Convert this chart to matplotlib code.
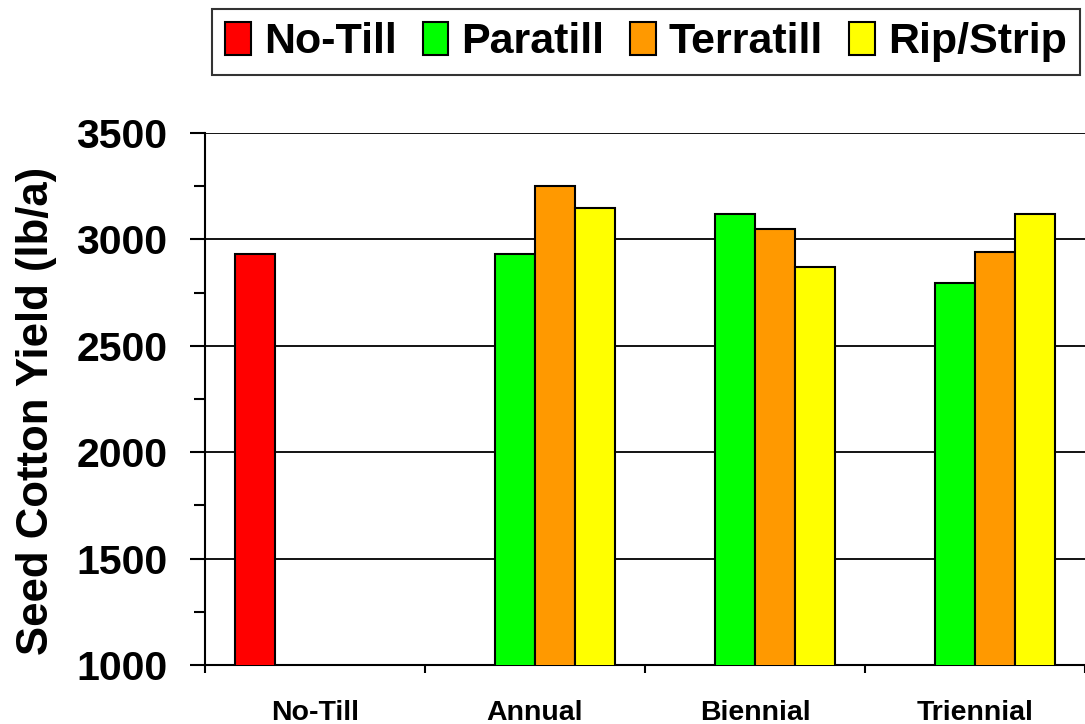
import numpy as np
import matplotlib
matplotlib.use("Agg")
from matplotlib import pyplot as plt
from matplotlib.ticker import MultipleLocator

categories = ["No-Till", "Annual", "Biennial", "Triennial"]
series_names = ["No-Till", "Paratill", "Terratill", "Rip/Strip"]
no_till = [2930, np.nan, np.nan, np.nan]
paratill = [np.nan, 2930, 3118, 2795]
terratill = [np.nan, 3252, 3047, 2942]
rip_strip = [np.nan, 3149, 2870, 3120]
colors = ["#FF0000", "#00FF00", "#FF9900", "#FFFF00"]

plt.rcParams['font.family'] = ['Liberation Sans', 'DejaVu Sans']
plt.rcParams['font.weight'] = 'bold'

fig = plt.figure(figsize=(10.85, 7.24), dpi=100)
ax = fig.add_axes([205/1085, 1 - 665/724, 880/1085, (665 - 133)/724])

x = np.arange(len(categories)) + 0.5
w = 40/220
handles = []
for i, (vals, c) in enumerate(zip([no_till, paratill, terratill, rip_strip], colors)):
    b = ax.bar(x + (i - 1.5)*w, vals, width=w, color=c, edgecolor='black',
               linewidth=1.5, zorder=3)
    handles.append(b)

ax.set_ylim(1000, 3500)
ax.set_xlim(0, 4)
ax.yaxis.set_major_locator(MultipleLocator(500))
ax.yaxis.set_minor_locator(MultipleLocator(250))
ax.yaxis.grid(True, which='major', color='black', linewidth=1.3, zorder=0)
ax.tick_params(axis='y', which='major', direction='out', length=11, width=1.5,
               labelsize=29.5, pad=16)
ax.tick_params(axis='y', which='minor', direction='out', length=8, width=1.5)
for t in ax.get_yticklabels():
    t.set_fontweight('bold')

ax.set_xticks([0, 1, 2, 3, 4])
ax.set_xticklabels([])
ax.set_xticks(x, minor=True)
ax.set_xticklabels(categories, minor=True, fontsize=20.5, fontweight='bold')
ax.tick_params(axis='x', which='major', direction='out', length=6, width=1.5)
ax.tick_params(axis='x', which='minor', length=0, pad=25)

for s in ['top', 'right']:
    ax.spines[s].set_visible(False)
ax.spines['left'].set_linewidth(1.5)
ax.spines['bottom'].set_linewidth(1.5)

ax.set_ylabel("Seed Cotton Yield (lb/a)", fontsize=31.5, fontweight='bold')
ax.yaxis.set_label_coords(-148/880, 0.477)

leg = fig.legend(handles, series_names, loc='center', bbox_to_anchor=(646/1085, 1 - 42/724),
                 ncol=4, frameon=True, fancybox=False, edgecolor='black',
                 prop={'weight': 'bold', 'size': 31},
                 handlelength=0.6, handleheight=0.8, handletextpad=0.3, columnspacing=0.6,
                 borderpad=0.3)
leg.get_frame().set_linewidth(1.5)

fig.savefig("out.png", dpi=100)
